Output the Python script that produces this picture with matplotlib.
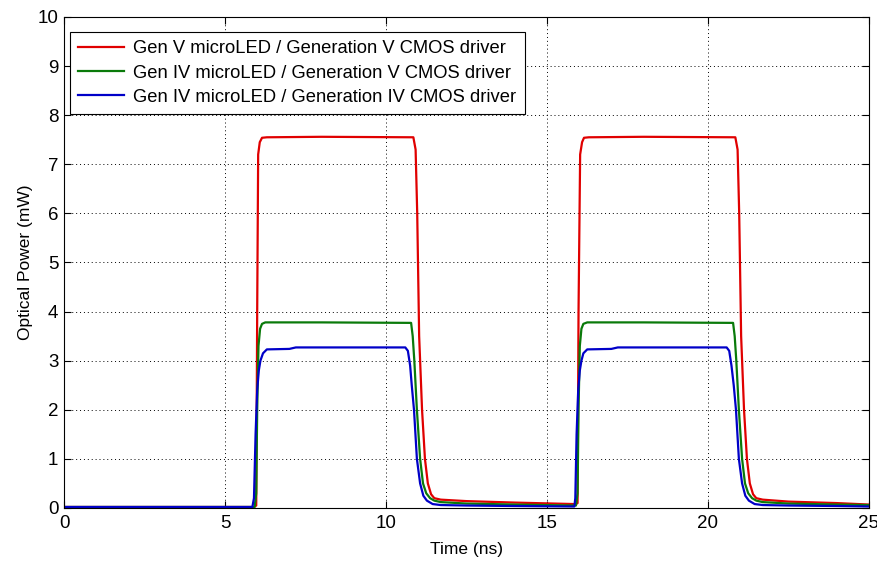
import numpy as np
import matplotlib
matplotlib.use("Agg")
import matplotlib.pyplot as plt

plt.rcParams['font.family'] = ['Liberation Sans', 'DejaVu Sans']

# values (time in ns, optical power in mW)
t_red = [0, 5.9, 5.97, 6.0, 6.03, 6.08, 6.15, 6.3, 8.0, 10.85, 10.92, 10.97, 11.03, 11.12,
         11.21, 11.3, 11.4, 11.5, 11.7, 12.5, 14.0, 15.85,
         15.9, 15.95, 15.98, 16.03, 16.09, 16.15, 16.3, 18.0, 20.85, 20.92, 20.97, 21.03,
         21.12, 21.21, 21.3, 21.4, 21.5, 21.7, 22.5, 24.0, 25.0]
p_red = [0.02, 0.02, 0.05, 4.0, 7.2, 7.45, 7.54, 7.55, 7.56, 7.55, 7.3, 6.0, 3.5, 2.0,
         1.0, 0.5, 0.28, 0.2, 0.17, 0.14, 0.11, 0.08,
         0.08, 0.1, 4.0, 7.2, 7.45, 7.54, 7.55, 7.56, 7.55, 7.3, 6.0, 3.5,
         2.0, 1.0, 0.5, 0.28, 0.2, 0.17, 0.13, 0.1, 0.07]

t_green = [0, 5.92, 5.97, 6.0, 6.04, 6.09, 6.15, 6.25, 8.0, 10.78, 10.83, 10.88, 10.96,
           11.06, 11.15, 11.25, 11.37, 11.5, 11.7, 12.5, 14.0, 15.85,
           15.9, 15.95, 15.98, 16.02, 16.07, 16.13, 16.25, 18.0, 20.78, 20.83, 20.88,
           20.96, 21.06, 21.15, 21.25, 21.37, 21.5, 21.7, 22.5, 24.0, 25.0]
p_green = [0.02, 0.02, 0.3, 2.0, 3.3, 3.65, 3.75, 3.78, 3.78, 3.77, 3.5, 3.0, 2.0,
           1.0, 0.5, 0.3, 0.2, 0.15, 0.12, 0.09, 0.07, 0.05,
           0.05, 0.3, 2.0, 3.3, 3.65, 3.75, 3.78, 3.78, 3.77, 3.5, 3.0,
           2.0, 1.0, 0.5, 0.3, 0.2, 0.15, 0.12, 0.09, 0.07, 0.06]

t_blue = [0, 5.85, 5.9, 5.95, 6.0, 6.05, 6.1, 6.18, 6.3, 7.0, 7.2, 10.6, 10.68, 10.75,
          10.8, 10.87, 10.96, 11.06, 11.16, 11.27, 11.45, 11.7, 12.5, 14.0, 15.85,
          15.88, 15.92, 15.97, 16.02, 16.07, 16.13, 16.25, 17.0, 17.2, 20.58, 20.66,
          20.73, 20.8, 20.87, 20.96, 21.06, 21.16, 21.27, 21.45, 21.7, 22.5, 24.0, 25.0]
p_blue = [0.02, 0.02, 0.2, 1.5, 2.4, 2.8, 3.0, 3.15, 3.23, 3.24, 3.27, 3.27, 3.2, 2.9,
          2.5, 2.0, 1.0, 0.5, 0.25, 0.15, 0.08, 0.06, 0.05, 0.04, 0.03,
          0.2, 1.5, 2.4, 2.8, 3.0, 3.15, 3.23, 3.24, 3.27, 3.27, 3.2,
          2.9, 2.5, 2.0, 1.0, 0.5, 0.25, 0.15, 0.08, 0.06, 0.05, 0.04, 0.03]

labels = ['Gen V microLED / Generation V CMOS driver',
          'Gen IV microLED / Generation V CMOS driver',
          'Gen IV microLED / Generation IV CMOS driver']
colors = ['#e00000', '#0a7a0a', '#0000c8']

fig = plt.figure(figsize=(8.78, 5.61), dpi=100)
ax = fig.add_axes([0.0729, 0.0945, 0.9168, 0.8752])

ax.plot(t_red, p_red, color=colors[0], lw=1.6, label=labels[0])
ax.plot(t_green, p_green, color=colors[1], lw=1.6, label=labels[1])
ax.plot(t_blue, p_blue, color=colors[2], lw=1.6, label=labels[2])

ax.set_xlim(0, 25)
ax.set_ylim(0, 10)
ax.set_xticks(np.arange(0, 26, 5))
ax.set_yticks(np.arange(0, 11, 1))
ax.grid(True, linestyle=(0, (1, 3)), color='black', linewidth=0.7)
ax.tick_params(direction='in', top=True, right=True, labelsize=13.5, length=5)
ax.tick_params(axis='x', pad=5)
ax.tick_params(axis='y', pad=4)
for s in ax.spines.values():
    s.set_linewidth(0.8)

ax.set_xlabel('Time (ns)', fontsize=12.5, labelpad=7)
ax.set_ylabel('Optical Power (mW)', fontsize=12.5, labelpad=3)

leg = ax.legend(loc='upper left', bbox_to_anchor=(0.0075, 0.9695), fontsize=13.2,
                fancybox=False, framealpha=1, edgecolor='black', borderpad=0.45,
                handlelength=2.5, handletextpad=0.5, labelspacing=0.4, borderaxespad=0)
leg.get_frame().set_linewidth(0.8)

fig.savefig('out.png', dpi=100)
